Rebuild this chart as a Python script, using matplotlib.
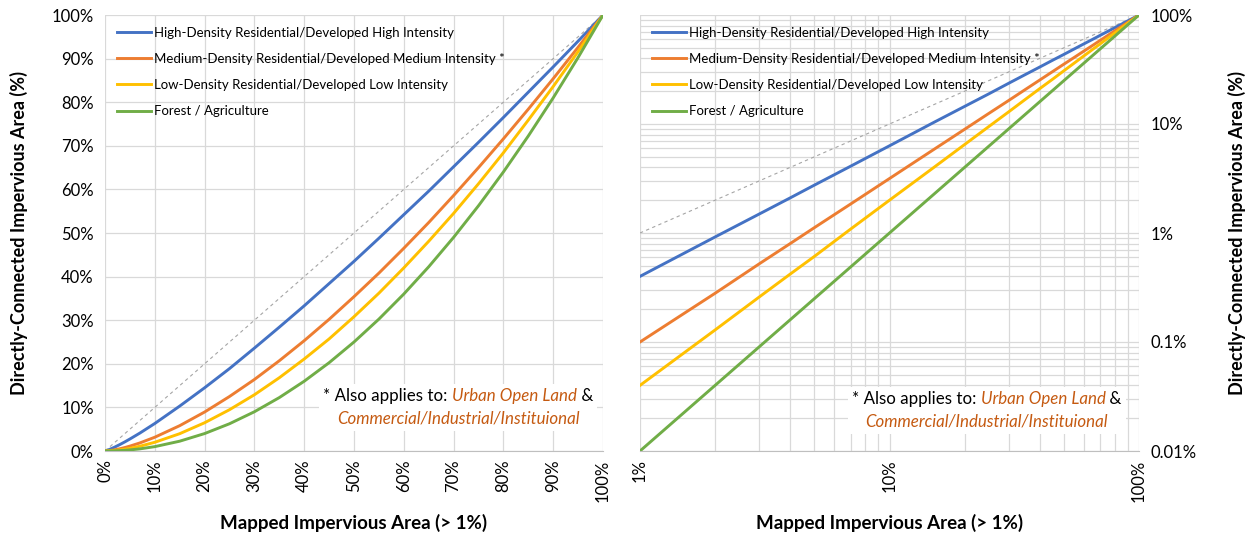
import matplotlib
matplotlib.use("Agg")
import matplotlib.pyplot as plt
from matplotlib.offsetbox import TextArea, HPacker, VPacker, AnchoredOffsetbox
from matplotlib.ticker import FixedLocator, FuncFormatter, LogLocator, NullFormatter

plt.rcParams['font.family'] = ['Lato', 'DejaVu Sans']

# Mapped impervious area (%) and directly-connected impervious area (%) per land use
mapped_ia = [0, 1, 2, 3, 4, 5, 7, 10, 15, 20, 25, 30, 35, 40, 45, 50,
             55, 60, 65, 70, 75, 80, 85, 90, 95, 100]
high_density = [0, 0.40, 0.92, 1.49, 2.10, 2.75, 4.11, 6.31, 10.3, 14.5, 18.9, 23.6, 28.4, 33.3, 38.4, 43.5,
                48.8, 54.2, 59.6, 65.2, 70.8, 76.5, 82.3, 88.1, 94.0, 100]
medium_density = [0, 0.10, 0.28, 0.52, 0.80, 1.12, 1.85, 3.16, 5.81, 8.94, 12.5, 16.4, 20.7, 25.3, 30.2, 35.4,
                  40.8, 46.5, 52.4, 58.6, 65.0, 71.6, 78.4, 85.4, 92.6, 100]
low_density = [0, 0.040, 0.129, 0.258, 0.42, 0.61, 1.09, 2.00, 3.97, 6.48, 9.47, 12.9, 16.8, 21.1, 25.7, 30.8,
               36.2, 42.0, 48.1, 54.5, 61.3, 68.4, 75.9, 83.6, 91.6, 100]
forest_ag = [0, 0.010, 0.04, 0.09, 0.16, 0.25, 0.49, 1.00, 2.25, 4.00, 6.25, 9.00, 12.25, 16.0, 20.25, 25.0,
             30.25, 36.0, 42.25, 49.0, 56.25, 64.0, 72.25, 81.0, 90.25, 100]

series_names = ['High-Density Residential/Developed High Intensity',
                'Medium-Density Residential/Developed Medium Intensity *',
                'Low-Density Residential/Developed Low Intensity',
                'Forest / Agriculture']
series_values = [high_density, medium_density, low_density, forest_ag]
colors = ['#4472C4', '#ED7D31', '#FFC000', '#70AD47']

one_to_one = [1, 100]

fig = plt.figure(figsize=(12.48, 5.37), dpi=100)
ax1 = fig.add_axes([105 / 1248, 86 / 537, 498 / 1248, 436 / 537])
ax2 = fig.add_axes([640 / 1248, 86 / 537, 499 / 1248, 436 / 537])

grid_col = '#D9D9D9'
pct = FuncFormatter(lambda v, p: f"{v:g}%")


def note_box(ax, x, y):
    """Footnote with mixed black / orange italic text."""
    kw = dict(fontsize=12.2)
    line1 = HPacker(children=[TextArea("* Also applies to: ", textprops=dict(color='black', **kw)),
                              TextArea("Urban Open Land", textprops=dict(color='#C55A11', style='italic', **kw)),
                              TextArea(" &", textprops=dict(color='black', **kw))],
                    align='baseline', pad=0, sep=0)
    line2 = TextArea("Commercial/Industrial/Instituional",
                     textprops=dict(color='#C55A11', style='italic', **kw))
    box = VPacker(children=[line1, line2], align='center', pad=0, sep=5)
    anch = AnchoredOffsetbox(loc='center', child=box, pad=0.3, frameon=True,
                             bbox_to_anchor=(x, y), bbox_transform=ax.transAxes, borderpad=0)
    anch.patch.set_facecolor('white')
    anch.patch.set_edgecolor('none')
    anch.set_zorder(5)
    ax.add_artist(anch)


# ---- left: linear axes
for name, vals, c in zip(series_names, series_values, colors):
    ax1.plot(mapped_ia, vals, color=c, lw=2.1, label=name, zorder=3)
ax1.plot([0, 100], [0, 100], color='#A5A5A5', lw=0.8, ls=(0, (3, 3)), zorder=2)
ax1.set_xlim(0, 100)
ax1.set_ylim(0, 100)
ax1.xaxis.set_major_locator(FixedLocator(range(0, 101, 10)))
ax1.yaxis.set_major_locator(FixedLocator(range(0, 101, 10)))
ax1.xaxis.set_major_formatter(pct)
ax1.yaxis.set_major_formatter(pct)
ax1.grid(True, color=grid_col, lw=0.9, zorder=0)
ax1.tick_params(axis='both', length=0, labelsize=12)
ax1.tick_params(axis='x', rotation=90, pad=6)
ax1.tick_params(axis='y', pad=8)
for s in ['top', 'right', 'left']:
    ax1.spines[s].set_visible(False)
ax1.spines['bottom'].set_color('#BFBFBF')
ax1.set_xlabel("Mapped Impervious Area (> 1%)", fontsize=13.5, fontweight='bold')
ax1.set_ylabel("Directly-Connected Impervious Area (%)", fontsize=13, fontweight='bold')
ax1.xaxis.set_label_coords(0.5, -0.145)
ax1.yaxis.set_label_coords(-0.155, 0.5)
ax1.legend(loc='upper left', frameon=False, fontsize=9.5, handlelength=2.6, handletextpad=0.2,
           labelspacing=1.07, borderaxespad=0.5, bbox_to_anchor=(0.0, 1.0))
note_box(ax1, 0.709, 0.1)

# ---- right: log-log axes
for name, vals, c in zip(series_names, series_values, colors):
    ax2.plot(mapped_ia[1:], vals[1:], color=c, lw=2.1, label=name, zorder=3)
ax2.plot(one_to_one, one_to_one, color='#A5A5A5', lw=0.8, ls=(0, (3, 3)), zorder=2)
ax2.set_xscale('log')
ax2.set_yscale('log')
ax2.set_xlim(1, 100)
ax2.set_ylim(0.01, 100)
ax2.xaxis.set_major_locator(FixedLocator([1, 10, 100]))
ax2.yaxis.set_major_locator(FixedLocator([0.01, 0.1, 1, 10, 100]))
ax2.xaxis.set_minor_locator(LogLocator(base=10, subs=range(2, 10)))
ax2.yaxis.set_minor_locator(LogLocator(base=10, subs=range(2, 10)))
ax2.xaxis.set_minor_formatter(NullFormatter())
ax2.yaxis.set_minor_formatter(NullFormatter())
ax2.xaxis.set_major_formatter(pct)
ax2.yaxis.set_major_formatter(pct)
ax2.grid(True, which='both', color=grid_col, lw=0.9, zorder=0)
ax2.tick_params(axis='both', which='both', length=0, labelsize=12)
ax2.tick_params(axis='x', rotation=90, pad=6)
ax2.yaxis.tick_right()
ax2.tick_params(axis='y', pad=8)
ax2.yaxis.set_label_position('right')
for s in ['top', 'right', 'left']:
    ax2.spines[s].set_visible(False)
ax2.spines['bottom'].set_color('#BFBFBF')
ax2.set_xlabel("Mapped Impervious Area (> 1%)", fontsize=13.5, fontweight='bold')
ax2.set_ylabel("Directly-Connected Impervious Area (%)", fontsize=13, fontweight='bold', rotation=90)
ax2.xaxis.set_label_coords(0.5, -0.145)
ax2.yaxis.set_label_coords(1.178, 0.5)
ax2.legend(loc='upper left', frameon=False, fontsize=9.5, handlelength=2.6, handletextpad=0.2,
           labelspacing=1.07, borderaxespad=0.5, bbox_to_anchor=(0.0, 1.0))
note_box(ax2, 0.695, 0.093)

fig.savefig("out.png", dpi=100, facecolor='white')
